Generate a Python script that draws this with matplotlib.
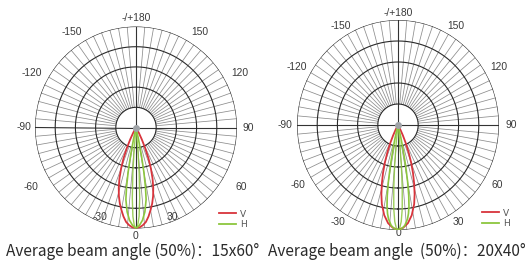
import numpy as np
import matplotlib
matplotlib.use("Agg")
import matplotlib.pyplot as plt
from matplotlib.lines import Line2D

# ---------------- data ----------------
# Left chart (15x60)
left_v_theta = [0, 2, 4, 6, 8, 10, 12, 14, 16, 18, 20, 22, 24, 26, 28, 30]
left_v_r     = [100, 99, 97, 94, 89, 83, 77, 70, 62, 53, 43, 33, 22, 13, 6, 0]
left_h_theta = [0, 2, 4, 6, 8, 9, 10, 11, 12, 13]
left_h_r     = [100, 97, 92, 84, 72, 60, 45, 28, 12, 0]
left_h2_theta = [0, 1, 2, 3, 4, 5, 6]
left_h2_r     = [100, 97, 88, 70, 45, 20, 0]

# Right chart (20x40)
right_v_theta = [0, 3, 6, 9, 12, 14, 16, 18, 20, 22, 24, 26, 28, 30]
right_v_r     = [100, 98, 94, 87, 77, 68, 58, 48, 38, 28, 19, 11, 5, 0]
right_h_theta = [0, 2, 4, 6, 7, 8, 9, 10, 11, 12, 13, 14, 15]
right_h_r     = [100, 99, 96, 90, 85, 78, 68, 55, 40, 25, 14, 6, 0]
right_h2_theta = [0, 1, 2, 3, 4, 5, 6, 7]
right_h2_r     = [100, 98, 92, 80, 60, 38, 16, 0]

ring_radii = [20, 40, 60, 80, 100]
spoke_step = 5

label_texts = ['0', '30', '60', '90', '120', '150', '-/+180',
               '-150', '-120', '-90', '-60', '-30']
left_label_theta = [0, 21.9, 60.5, 90, 117.7, 146.2, 180,
                    -146.2, -117.7, -90, -60.5, -21.9]
left_label_r = [107, 95.5, 119.5, 111, 116, 114, 108,
                114, 116, 111, 119.5, 95.5]
right_label_theta = [0, 33, 60, 90, 119, 148.8, 180,
                     -148.8, -119, -90, -60, -33]
right_label_r = [103, 110, 114, 112, 114, 110, 107,
                 110, 114, 112, 114, 110]

titles = ["Average beam angle (50%)：15x60°",
          "Average beam angle  (50%)：20X40°"]

RED = "#d8343c"
GREEN = "#8cc63e"

W, H = 530, 261
fig = plt.figure(figsize=(W / 100, H / 100), dpi=100)


def mirror(theta, r):
    th = [-t for t in theta[::-1]] + list(theta[1:])
    rr = list(r[::-1]) + list(r[1:])
    return np.deg2rad(th), np.array(rr)


def make_chart(cx, cy, rx, ry, vt, vr, ht, hr, h2t, h2r, lt, lr, title,
               legend_xy, title_x):
    ax = fig.add_axes([(cx - rx) / W, (H - cy - ry) / H, 2 * rx / W, 2 * ry / H],
                      projection='polar')
    ax.set_aspect('auto')
    ax.set_theta_zero_location('S')
    ax.set_theta_direction(1)
    ax.set_ylim(0, 100)
    ax.grid(False)
    ax.set_xticks([])
    ax.set_yticks([])
    ax.spines['polar'].set_visible(False)
    ax.patch.set_alpha(0)

    # spokes
    for a in np.arange(0, 360, spoke_step):
        if a % 90 == 0:
            continue
        ax.plot([np.deg2rad(a)] * 2, [ring_radii[0], ring_radii[-1]],
                color="#8c8c8c", lw=0.55, zorder=1)
    # crosshair
    for a in [0, 90, 180, 270]:
        ax.plot([np.deg2rad(a)] * 2, [0, 100], color="#333333", lw=0.8, zorder=2)
    # rings
    tt = np.linspace(0, 2 * np.pi, 361)
    for rr in ring_radii:
        ax.plot(tt, [rr] * len(tt), color="#2a2a2a", lw=0.8, zorder=2)

    th, r = mirror(vt, vr)
    ax.plot(th, r, color=RED, lw=1.3, zorder=4)
    th, r = mirror(ht, hr)
    ax.plot(th, r, color=GREEN, lw=1.2, zorder=5)
    th, r = mirror(h2t, h2r)
    ax.plot(th, r, color=GREEN, lw=1.0, alpha=0.85, zorder=5)
    ax.plot([0], [0], marker='o', ms=4, color="#a0a4a8", zorder=6)

    for txt, a, rr in zip(label_texts, lt, lr):
        ax.text(np.deg2rad(a), rr, txt, ha='center', va='center', fontsize=7.4,
                color="#3a3a3a", family='Liberation Sans')

    handles = [Line2D([], [], color=RED, lw=1.3, label='V'),
               Line2D([], [], color=GREEN, lw=1.3, label='H')]
    fig.legend(handles=handles, loc='upper left',
               bbox_to_anchor=(legend_xy[0] / W, 1 - legend_xy[1] / H),
               frameon=False, fontsize=6.5, handlelength=1.9, handletextpad=0.5,
               labelspacing=0.15, borderpad=0, labelcolor="#555555")

    fig.text(title_x / W, 1 - 251 / H, title, ha='center', va='center',
             fontsize=11.1, color="#2a2a2a",
             family=['Noto Sans CJK SC', 'DejaVu Sans'])
    return ax


make_chart(136, 127.5, 101, 101, left_v_theta, left_v_r, left_h_theta, left_h_r,
           left_h2_theta, left_h2_r,
           left_label_theta, left_label_r, titles[0], (214, 205), 133)
make_chart(398, 125, 101, 105, right_v_theta, right_v_r, right_h_theta, right_h_r,
           right_h2_theta, right_h2_r,
           right_label_theta, right_label_r, titles[1], (397 + 80, 204), 397)

fig.savefig("out.png", dpi=100)
